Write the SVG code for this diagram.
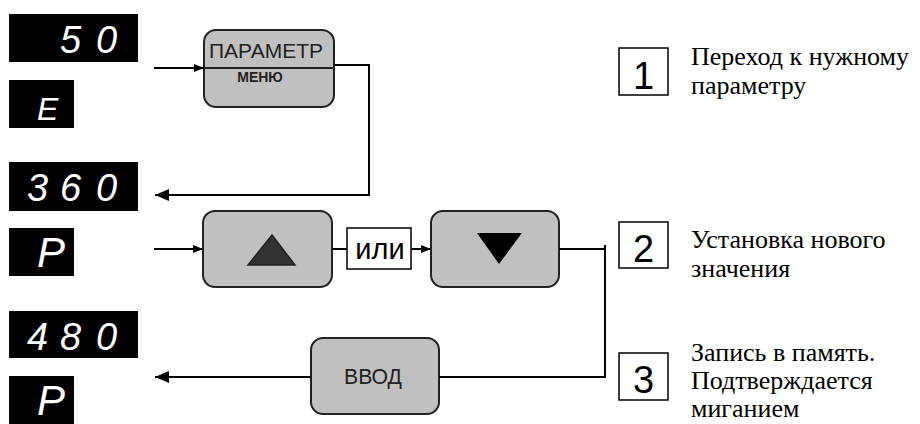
<svg xmlns="http://www.w3.org/2000/svg" width="920" height="424" viewBox="0 0 920 424">
<defs>
<style>
.disp{fill:#000}
.seg{fill:#fff;font-family:"Liberation Sans",Arial,sans-serif;font-style:italic;font-size:38px}
.btn{fill:#c0c0c0;stroke:#222;stroke-width:2}
.ln{fill:none;stroke:#000;stroke-width:2}
.bx{fill:#fff;stroke:#000;stroke-width:1.5}
.num{font-family:"Liberation Sans",Arial,sans-serif;font-size:38px;fill:#000;text-anchor:middle}
.desc{font-family:"Liberation Serif","Times New Roman",serif;font-size:26px;fill:#000}
.lbl{font-family:"Liberation Sans",Arial,sans-serif;fill:#222;text-anchor:middle}
</style>
<marker id="ah" viewBox="0 0 10 10" refX="10" refY="5" markerWidth="10" markerHeight="10" markerUnits="userSpaceOnUse" orient="auto">
<path d="M0,1 L10,5 L0,9 Z" fill="#000"/>
</marker>
<marker id="ahL" viewBox="0 0 14 12" refX="14" refY="6" markerWidth="14" markerHeight="12" markerUnits="userSpaceOnUse" orient="auto">
<path d="M0,0 L14,6 L0,12 Z" fill="#000"/>
</marker>
</defs>
<rect width="920" height="424" fill="#fff"/>

<g id="d50"><rect class="disp" x="9" y="14" width="129" height="48"/><text class="seg" x="60 96" y="53">50</text></g>
<g id="dE"><rect class="disp" x="9" y="80" width="65" height="48"/><text class="seg" x="37" y="120" style="font-size:32px">E</text></g>
<g id="d360"><rect class="disp" x="9" y="162" width="129" height="49"/><text class="seg" x="27 60 96" y="201">360</text></g>
<g id="dP1"><rect class="disp" x="9" y="228" width="65" height="48"/><text class="seg" x="37" y="267" style="font-size:42px">P</text></g>
<g id="d480"><rect class="disp" x="9" y="311" width="129" height="47"/><text class="seg" x="27 60 96" y="350">480</text></g>
<g id="dP2"><rect class="disp" x="9" y="376" width="65" height="48"/><text class="seg" x="37" y="415" style="font-size:42px">P</text></g>

<g id="btnParam">
<rect class="btn" x="204" y="30" width="130" height="77" rx="12"/>
<line x1="204" y1="68" x2="334" y2="68" stroke="#222" stroke-width="2"/>
<text class="lbl" x="266" y="58" style="font-size:21px">ПАРАМЕТР</text>
<text class="lbl" x="260" y="82" style="font-size:14px;font-weight:bold">МЕНЮ</text>
</g>
<g id="btnUp">
<rect class="btn" x="203" y="211" width="129" height="76" rx="12"/>
<polygon points="272,235 295,265 248,265" fill="#333" stroke="#222" stroke-width="1.5"/>
</g>
<g id="ili">
<rect class="bx" x="347" y="228" width="64" height="41"/>
<text class="lbl" x="380" y="259" style="font-size:29px;fill:#000">или</text>
</g>
<g id="btnDown">
<rect class="btn" x="431" y="211" width="128" height="76" rx="12"/>
<polygon points="477,233 522,233 499,264" fill="#000"/>
</g>
<g id="btnEnter">
<rect class="btn" x="311" y="338" width="128" height="76" rx="12"/>
<text class="lbl" x="373" y="384" style="font-size:22px" textLength="58" lengthAdjust="spacingAndGlyphs">ВВОД</text>
</g>

<g id="step1"><rect class="bx" x="619" y="48" width="49" height="47"/><text class="num" x="643.5" y="89">1</text>
<text class="desc" x="691" y="65">Переход к нужному</text><text class="desc" x="691" y="94">параметру</text></g>
<g id="step2"><rect class="bx" x="619" y="222" width="49" height="46"/><text class="num" x="643.5" y="262">2</text>
<text class="desc" x="691" y="248">Установка нового</text><text class="desc" x="691" y="277">значения</text></g>
<g id="step3"><rect class="bx" x="619" y="353" width="49" height="47"/><text class="num" x="643.5" y="393">3</text>
<text class="desc" x="691" y="361">Запись в память.</text><text class="desc" x="691" y="389">Подтверждается</text><text class="desc" x="691" y="417">миганием</text></g>

<g id="connectors">
<line class="ln" x1="154" y1="68" x2="204" y2="68" marker-end="url(#ah)"/>
<polyline class="ln" points="334,65 369,65 369,195 155,195" marker-end="url(#ahL)"/>
<line class="ln" x1="154" y1="249" x2="203" y2="249" marker-end="url(#ah)"/>
<line class="ln" x1="332" y1="249" x2="347" y2="249"/>
<line class="ln" x1="411" y1="249" x2="431" y2="249" marker-end="url(#ah)"/>
<polyline class="ln" points="559,249 605,249"/>
<polyline class="ln" points="605,245 605,377 439,377"/>
<line class="ln" x1="311" y1="377" x2="155" y2="377" marker-end="url(#ahL)"/>
</g>
</svg>
